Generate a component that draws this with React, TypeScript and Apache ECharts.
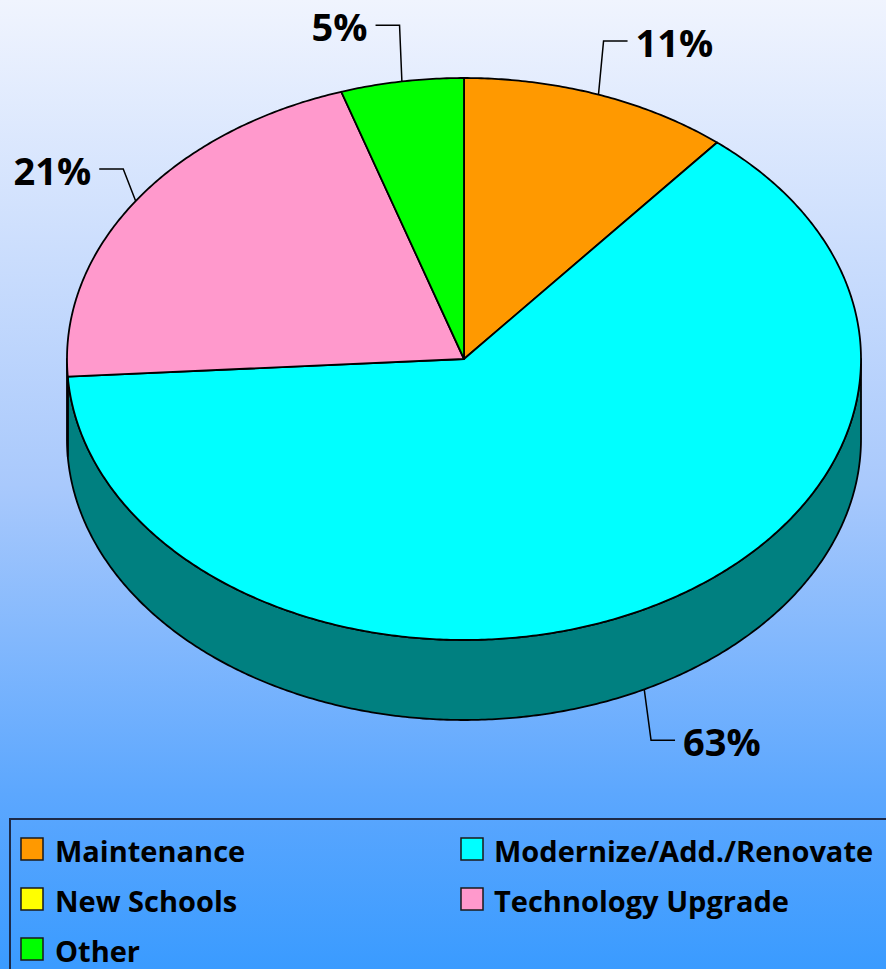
import React, { useEffect, useRef } from "react";
import * as echarts from "echarts";

const categories = ["Maintenance", "Modernize/Add./Renovate", "New Schools", "Technology Upgrade", "Other"];
const values = [11, 63, 0, 21, 5];
const colors = ["#ff9900", "#00ffff", "#ffff00", "#ff99cc", "#00ff00"];

const W = 886;
const H = 969;
const CX = 464;
const CY = 359;
const RX = 397;
const RY = 281;
const DEPTH = 80;
const LRX = 412;
const LRY = 338;
const FONT = '"Open Sans", Lato, sans-serif';

const total = values.reduce((a, b) => a + b, 0);
const starts = values.map((_, i) => values.slice(0, i).reduce((a, b) => a + b, 0));

function darken(hex: string): string {
  const n = parseInt(hex.slice(1), 16);
  const r = Math.round(((n >> 16) & 255) / 2);
  const g = Math.round(((n >> 8) & 255) / 2);
  const b = Math.round((n & 255) / 2);
  return `rgb(${r},${g},${b})`;
}

function pt(t: number, dy = 0): number[] {
  return [CX + RX * Math.sin(t), CY - RY * Math.cos(t) + dy];
}

function arc(t0: number, t1: number, dy = 0): number[][] {
  const n = Math.max(2, Math.ceil(Math.abs(t1 - t0) / (Math.PI / 360)));
  const pts: number[][] = [];
  for (let k = 0; k <= n; k++) pts.push(pt(t0 + ((t1 - t0) * k) / n, dy));
  return pts;
}

function renderItem(params: any, api: any) {
  const i = params.dataIndex;
  const v = api.value(0) as number;
  if (!v) return { type: "group", children: [] };
  const TWO_PI = Math.PI * 2;
  const t0 = (starts[i] / total) * TWO_PI;
  const t1 = ((starts[i] + v) / total) * TWO_PI;
  const children: any[] = [];
  const w0 = Math.max(t0, Math.PI / 2);
  const w1 = Math.min(t1, (3 * Math.PI) / 2);
  if (w1 > w0) {
    const top = arc(w0, w1);
    const bot = arc(w1, w0, DEPTH);
    children.push({
      type: "polygon",
      shape: { points: top.concat(bot) },
      style: { fill: darken(colors[i]), stroke: "#000", lineWidth: 1.8, lineJoin: "round" },
    });
  }
  children.push({
    type: "polygon",
    shape: { points: [[CX, CY], ...arc(t0, t1)] },
    style: { fill: colors[i], stroke: "#000", lineWidth: 1.8, lineJoin: "round" },
  });
  // label with leader line
  const m = (t0 + t1) / 2;
  const front = Math.cos(m) < 0;
  const dy = front ? DEPTH : 0;
  const edge = pt(m, dy);
  const elbow = [CX + LRX * Math.sin(m), CY - LRY * Math.cos(m) + dy];
  const dir = Math.sin(m) >= 0 ? 1 : -1;
  const end = [elbow[0] + dir * 24, elbow[1]];
  children.push({
    type: "polyline",
    shape: { points: [edge, elbow, end] },
    style: { stroke: "#000", lineWidth: 1.5, fill: null },
  });
  children.push({
    type: "text",
    style: {
      text: Math.round((v / total) * 100) + "%",
      x: end[0] + dir * 8,
      y: end[1] + 1,
      align: dir > 0 ? "left" : "right",
      verticalAlign: "middle",
      fontSize: 38,
      lineHeight: 38,
      fontWeight: "bold",
      fontFamily: FONT,
      fill: "#000",
    },
  });
  return { type: "group", children };
}

export default function App() {
  const ref = useRef<HTMLDivElement>(null);
  useEffect(() => {
    if (!ref.current) return;
    const chart = echarts.init(ref.current, null, { renderer: "svg" });
    const legendItems: any[] = [];
    categories.forEach((name, i) => {
      const row = Math.floor(i / 2);
      const col = i % 2;
      legendItems.push({
        type: "rect",
        shape: { x: col ? 461 : 21, y: 838 + row * 50, width: 22, height: 22 },
        style: { fill: colors[i], stroke: "#1a1a1a", lineWidth: 1.5 },
      });
      legendItems.push({
        type: "text",
        style: {
          text: name,
          x: col ? 494 : 55,
          y: 850 + row * 50,
          verticalAlign: "middle",
          fontSize: 29,
          fontWeight: "bold",
          fontFamily: FONT,
          fill: "#000",
        },
      });
    });
    chart.setOption({
      animation: false,
      graphic: [
        {
          type: "rect",
          z: -100,
          silent: true,
          shape: { x: 0, y: 0, width: W, height: H },
          style: {
            fill: {
              type: "linear",
              x: 0,
              y: 0,
              x2: 0,
              y2: 1,
              colorStops: [
                { offset: 0, color: "#f0f4fe" },
                { offset: 0.5, color: "#a9c9fc" },
                { offset: 0.82, color: "#5ca7fe" },
                { offset: 1, color: "#3a9bff" },
              ],
            },
          },
        },
        {
          type: "rect",
          z: 1,
          shape: { x: 10, y: 819, width: 900, height: 200 },
          style: { fill: null, stroke: "#1c2a48", lineWidth: 2 },
        },
        { type: "group", z: 2, children: legendItems },
      ],
      series: [
        {
          type: "custom",
          coordinateSystem: "none",
          silent: true,
          renderItem,
          data: values.map((v, i) => ({ name: categories[i], value: [v] })),
        },
      ],
    });
    return () => chart.dispose();
  }, []);
  return <div ref={ref} style={{ position: "absolute", left: 0, top: 0, width: W, height: H }} />;
}
